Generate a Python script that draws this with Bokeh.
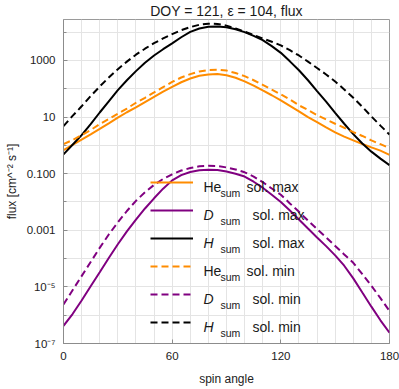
from bokeh.plotting import figure
from bokeh.models import FixedTicker, Legend, LegendItem, Label
from bokeh.core.properties import value
from bokeh.embed import file_html
from bokeh.resources import INLINE

# ---------------- data ----------------
ANGLE = [0, 5, 10, 15, 20, 25, 30, 35, 40, 45, 50, 55, 60, 65, 70, 75, 80, 85, 90,
         95, 100, 105, 110, 115, 120, 125, 130, 135, 140, 145, 150, 155, 160, 165, 170, 175, 180]

HE_MAX = [0.68, 1.05, 1.6, 2.45, 3.8, 6.0, 9.5, 14.8, 22, 34, 52, 79, 117, 170, 230, 290, 320,
          330, 300, 245, 182, 129, 87, 59, 39, 25, 16, 10, 6.6, 4.3, 2.9, 2.05, 1.5, 1.12,
          0.85, 0.65, 0.46]
D_MAX = [4.2e-7, 1.1e-6, 3.3e-6, 1.05e-5, 3.3e-5, 1.05e-4, 3.2e-4, 9.1e-4, 2.4e-3, 5.9e-3,
         1.35e-2, 2.95e-2, 5.8e-2, 8.9e-2, 0.115, 0.132, 0.138, 0.135, 0.120, 0.100, 0.079,
         0.052, 0.032, 0.018, 0.010, 5.0e-3, 2.4e-3, 1.15e-3, 5.6e-4, 2.75e-4, 1.3e-4, 5.6e-5,
         2.0e-5, 6.3e-6, 2.0e-6, 6.6e-7, 2.4e-7]
H_MAX = [0.48, 1.05, 2.3, 5.6, 14.5, 36, 89, 200, 420, 830, 1500, 2500, 4000, 6600, 10200,
         13500, 15500, 15800, 14800, 12600, 10000, 7400, 5200, 3200, 1860, 930, 450, 200, 83,
         35, 14, 5.8, 2.5, 1.17, 0.60, 0.34, 0.20]
HE_MIN = [1.1, 1.55, 2.3, 3.5, 5.6, 8.5, 13, 20, 32, 48, 74, 115, 174, 250, 330, 410, 460, 470,
          440, 360, 280, 200, 138, 93, 63, 42, 26, 17.8, 11.7, 8.3, 5.8, 4.2, 2.95, 2.15, 1.5,
          1.1, 0.79]
D_MIN = [2.4e-6, 7.6e-6, 2.4e-5, 7.6e-5, 2.4e-4, 7.1e-4, 1.9e-3, 4.8e-3, 1.1e-2, 2.2e-2,
         4.0e-2, 6.5e-2, 9.5e-2, 0.129, 0.158, 0.182, 0.19, 0.186, 0.166, 0.141, 0.112, 0.079,
         0.050, 0.030, 0.018, 8.9e-3, 4.5e-3, 2.2e-3, 1.1e-3, 5.6e-4, 2.8e-4, 1.4e-4, 7.1e-5,
         2.8e-5, 1.1e-5, 4.0e-6, 1.4e-6]
H_MIN = [4.8, 11, 24, 55, 120, 250, 490, 910, 1600, 2600, 4100, 6000, 8500, 11700, 15100, 18200,
         20000, 19500, 17000, 13500, 10500, 7900, 6000, 4600, 3400, 2300, 1500, 910, 540, 320,
         180, 95, 48, 23, 10.5, 5.0, 2.4]

TITLE = "DOY = 121, ε = 104, flux"
X_LABEL = "spin angle"
Y_LABEL = "flux [cm^⁻² s⁻¹]"
X_TICKS = [0, 60, 120, 180]
X_GRID = [0, 10, 20, 30, 40, 50, 60, 70, 80, 90, 100, 110, 120, 130, 140, 150, 160, 170, 180]
Y_TICKS = [1e-7, 1e-5, 1e-3, 1e-1, 1e1, 1e3]
Y_TICK_LABELS = ["10⁻⁷", "10⁻⁵", "0.001", "0.100", "10", "1000"]
Y_MINOR = [1e-6, 1e-4, 1e-2, 1e0, 1e2, 1e4]
Y_GRID = [1e-7, 1e-6, 1e-5, 1e-4, 1e-3, 1e-2, 1e-1, 1e0, 1e1, 1e2, 1e3, 1e4]
Y_RANGE = (1e-7, 2.8e4)

SERIES = [
    ("He", "sol. max", HE_MAX, "#ff8c00", "solid", "normal"),
    ("D", "sol. max", D_MAX, "#800080", "solid", "italic"),
    ("H", "sol. max", H_MAX, "#000000", "solid", "italic"),
    ("He", "sol. min", HE_MIN, "#ff8c00", "7 4", "normal"),
    ("D", "sol. min", D_MIN, "#800080", "7 4", "italic"),
    ("H", "sol. min", H_MIN, "#000000", "7 4", "italic"),
]

FONT = "Liberation Sans"
W, H = 399, 389
ML, MR, MT, MB = 63, 10, 0, 46

p = figure(width=W, height=H, x_range=(0, 180), y_range=Y_RANGE, title=TITLE,
           y_axis_type="log", output_backend="svg", toolbar_location=None,
           min_border_left=ML, min_border_right=MR, min_border_top=MT,
           min_border_bottom=MB)

p.title.align = "center"
p.title.text_font = FONT
p.title.text_font_size = "14px"
p.title.text_font_style = "normal"
p.title.text_color = "#1a1a1a"
p.title.standoff = 1

p.outline_line_color = "#9a9a9a"
p.background_fill_color = "white"
p.border_fill_color = "white"

# axes
for ax in (p.xaxis[0], p.yaxis[0]):
    ax.axis_line_color = "#8c8c8c"
    ax.major_tick_line_color = "#8c8c8c"
    ax.minor_tick_line_color = "#8c8c8c"
    ax.major_tick_in = 4
    ax.major_tick_out = 0
    ax.minor_tick_in = 3
    ax.minor_tick_out = 0
    ax.major_label_text_font = FONT
    ax.major_label_text_font_size = "11.5px"
    ax.major_label_text_color = "#222222"
    ax.axis_label_text_font = FONT
    ax.axis_label_text_font_size = "12px"
    ax.axis_label_text_font_style = "normal"
    ax.axis_label_text_color = "#222222"

p.xaxis.ticker = FixedTicker(ticks=X_TICKS)
p.xaxis.minor_tick_line_color = None
p.xaxis.major_label_standoff = 8
p.xaxis.axis_label = X_LABEL
p.xaxis.axis_label_standoff = 9

p.yaxis.ticker = FixedTicker(ticks=Y_TICKS, minor_ticks=Y_MINOR)
p.yaxis.major_label_overrides = dict(zip(Y_TICKS, Y_TICK_LABELS))
p.yaxis.major_label_standoff = 8
p.yaxis.axis_label = Y_LABEL
p.yaxis.axis_label_standoff = 5

p.xgrid.ticker = FixedTicker(ticks=X_GRID)
p.ygrid.ticker = FixedTicker(ticks=Y_GRID)
p.xgrid.grid_line_color = "#e4e4e4"
p.ygrid.grid_line_color = "#e4e4e4"

items = []
for name, sol, ys, color, dash, style in SERIES:
    r = p.line(ANGLE, ys, line_color=color, line_width=2, line_dash=dash)
    items.append(LegendItem(label=value(" "), renderers=[r]))

legend = Legend(items=items, location=(87, 7.5), orientation="vertical",
                glyph_width=43, glyph_height=28, label_height=28, label_width=1,
                label_standoff=0, spacing=0, padding=0, margin=0,
                border_line_alpha=0, background_fill_alpha=0,
                label_text_font_size="1px")
p.add_layout(legend)

# legend texts (screen units relative to frame bottom-left)
for i, (name, sol, ys, color, dash, style) in enumerate(SERIES):
    yc = 7.5 + 28 * (5 - i) + 14
    p.add_layout(Label(x=140, y=yc - 5, x_units="screen", y_units="screen", text=name,
                       text_font=FONT, text_font_size="14px", text_font_style=style,
                       text_color="#1a1a1a", text_baseline="alphabetic"))
    p.add_layout(Label(x=157, y=yc - 11, x_units="screen", y_units="screen", text="sum",
                       text_font=FONT, text_font_size="10.5px", text_color="#1a1a1a",
                       text_baseline="alphabetic"))
    p.add_layout(Label(x=183 if name == "He" else 189, y=yc - 5, x_units="screen",
                       y_units="screen", text=sol, text_font=FONT, text_font_size="14px",
                       text_color="#1a1a1a", text_baseline="alphabetic"))

open("out.html", "w").write(file_html(p, INLINE))
